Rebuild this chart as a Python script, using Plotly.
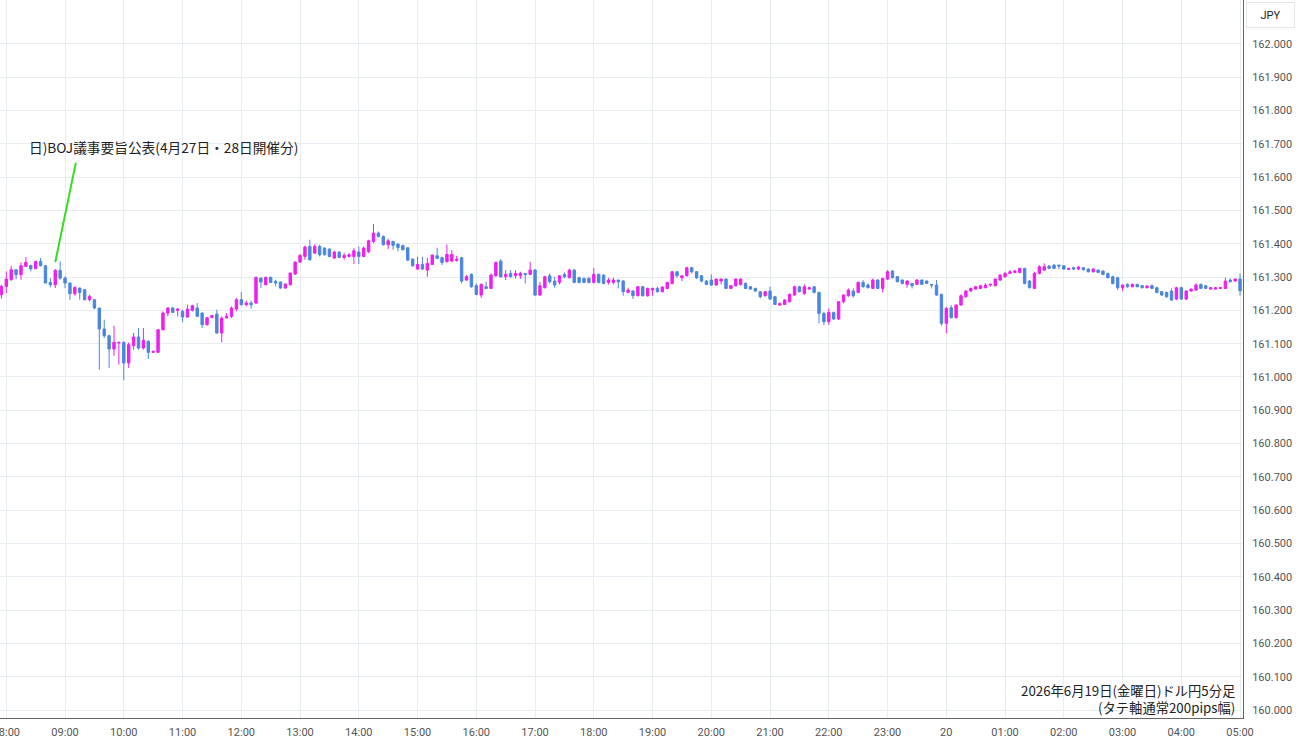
import pandas as pd
import plotly.graph_objects as go

# 5-minute USD/JPY candles, 2026-06-19 07:55 -> 2026-06-20 05:00 (one row per hour block)
start_time = "2026-06-19 07:55"

open_ = [
    161.247,
    161.272, 161.292, 161.322, 161.307, 161.332, 161.335, 161.325, 161.347, 161.334, 161.284, 161.277, 161.320,  # 08
    161.297, 161.282, 161.250, 161.267, 161.262, 161.232, 161.232, 161.207, 161.144, 161.124, 161.084, 161.102,  # 09
    161.104, 161.042, 161.094, 161.120, 161.087, 161.107, 161.074, 161.074, 161.142, 161.192, 161.207, 161.200,  # 10
    161.197, 161.180, 161.200, 161.207, 161.192, 161.157, 161.179, 161.189, 161.132, 161.177, 161.182, 161.204,  # 11
    161.232, 161.217, 161.222, 161.222, 161.297, 161.277, 161.299, 161.287, 161.285, 161.267, 161.277, 161.309,  # 12
    161.345, 161.362, 161.392, 161.372, 161.392, 161.387, 161.384, 161.357, 161.375, 161.359, 161.362, 161.362,  # 13
    161.375, 161.362, 161.377, 161.407, 161.432, 161.422, 161.397, 161.407, 161.399, 161.395, 161.388, 161.354,  # 14
    161.324, 161.338, 161.321, 161.338, 161.364, 161.358, 161.346, 161.348, 161.350, 161.358, 161.291, 161.308,  # 15
    161.274, 161.246, 161.271, 161.266, 161.304, 161.348, 161.301, 161.311, 161.304, 161.304, 161.311, 161.308,  # 16
    161.321, 161.246, 161.268, 161.304, 161.288, 161.284, 161.308, 161.298, 161.321, 161.298, 161.296, 161.296,  # 17
    161.284, 161.308, 161.306, 161.284, 161.284, 161.291, 161.288, 161.254, 161.258, 161.244, 161.271, 161.244,  # 18
    161.261, 161.266, 161.256, 161.266, 161.281, 161.316, 161.298, 161.304, 161.328, 161.316, 161.304, 161.288,  # 19
    161.291, 161.276, 161.288, 161.294, 161.266, 161.274, 161.278, 161.281, 161.271, 161.266, 161.256, 161.244,  # 20
    161.258, 161.241, 161.216, 161.218, 161.226, 161.246, 161.271, 161.251, 161.264, 161.271, 161.254, 161.191,  # 21
    161.166, 161.194, 161.174, 161.226, 161.244, 161.258, 161.254, 161.284, 161.276, 161.266, 161.291, 161.266,  # 22
    161.294, 161.318, 161.301, 161.291, 161.278, 161.281, 161.278, 161.291, 161.288, 161.278, 161.276, 161.248,  # 23
    161.161, 161.208, 161.178, 161.216, 161.241, 161.258, 161.264, 161.266, 161.268, 161.276, 161.274, 161.291,  # 00
    161.301, 161.311, 161.314, 161.314, 161.326, 161.288, 161.266, 161.311, 161.321, 161.333, 161.336, 161.336,  # 01
    161.334, 161.323, 161.328, 161.324, 161.328, 161.324, 161.316, 161.321, 161.318, 161.311, 161.301, 161.298,  # 02
    161.268, 161.278, 161.271, 161.278, 161.274, 161.268, 161.274, 161.268, 161.256, 161.254, 161.258, 161.234,  # 03
    161.268, 161.234, 161.258, 161.261, 161.278, 161.274, 161.264, 161.264, 161.266, 161.266, 161.291, 161.288,  # 04
    161.294,
]

high = [
    161.277,
    161.317, 161.334, 161.324, 161.344, 161.360, 161.337, 161.349, 161.357, 161.336, 161.297, 161.324, 161.347,
    161.302, 161.284, 161.272, 161.269, 161.264, 161.247, 161.234, 161.207, 161.172, 161.127, 161.154, 161.104,
    161.107, 161.104, 161.132, 161.147, 161.147, 161.110, 161.077, 161.144, 161.197, 161.210, 161.210, 161.207,
    161.202, 161.217, 161.217, 161.222, 161.194, 161.180, 161.186, 161.202, 161.182, 161.192, 161.212, 161.237,
    161.255, 161.229, 161.229, 161.302, 161.299, 161.302, 161.302, 161.292, 161.287, 161.281, 161.314, 161.347,
    161.369, 161.395, 161.412, 161.399, 161.397, 161.389, 161.386, 161.379, 161.377, 161.372, 161.372, 161.387,
    161.392, 161.392, 161.412, 161.459, 161.437, 161.425, 161.415, 161.409, 161.402, 161.397, 161.390, 161.356,
    161.361, 161.361, 161.358, 161.368, 161.388, 161.361, 161.398, 161.381, 161.364, 161.361, 161.306, 161.311,
    161.281, 161.281, 161.286, 161.311, 161.346, 161.354, 161.321, 161.321, 161.321, 161.316, 161.312, 161.346,
    161.324, 161.286, 161.304, 161.311, 161.301, 161.306, 161.314, 161.324, 161.324, 161.301, 161.298, 161.301,
    161.328, 161.311, 161.308, 161.298, 161.298, 161.292, 161.291, 161.268, 161.261, 161.273, 161.273, 161.268,
    161.268, 161.271, 161.272, 161.286, 161.318, 161.318, 161.306, 161.331, 161.331, 161.318, 161.306, 161.291,
    161.308, 161.296, 161.296, 161.296, 161.276, 161.296, 161.296, 161.284, 161.273, 161.268, 161.258, 161.258,
    161.271, 161.244, 161.223, 161.234, 161.251, 161.274, 161.274, 161.278, 161.271, 161.272, 161.256, 161.196,
    161.206, 161.196, 161.228, 161.248, 161.266, 161.266, 161.286, 161.291, 161.281, 161.296, 161.294, 161.298,
    161.321, 161.321, 161.303, 161.293, 161.291, 161.282, 161.294, 161.293, 161.290, 161.279, 161.291, 161.250,
    161.211, 161.216, 161.218, 161.248, 161.261, 161.268, 161.274, 161.276, 161.281, 161.281, 161.296, 161.308,
    161.316, 161.321, 161.321, 161.328, 161.328, 161.291, 161.316, 161.336, 161.341, 161.336, 161.338, 161.337,
    161.336, 161.328, 161.330, 161.333, 161.330, 161.326, 161.326, 161.323, 161.320, 161.313, 161.304, 161.301,
    161.278, 161.281, 161.281, 161.280, 161.276, 161.276, 161.278, 161.271, 161.258, 161.256, 161.266, 161.271,
    161.271, 161.261, 161.266, 161.281, 161.281, 161.276, 161.270, 161.270, 161.270, 161.298, 161.296, 161.296,
    161.311,
]

low = [
    161.235,
    161.252, 161.289, 161.294, 161.292, 161.330, 161.317, 161.324, 161.332, 161.282, 161.269, 161.267, 161.292,
    161.267, 161.232, 161.244, 161.232, 161.230, 161.227, 161.204, 161.022, 161.117, 161.027, 161.064, 161.037,
    160.990, 161.027, 161.082, 161.082, 161.082, 161.054, 161.072, 161.072, 161.140, 161.182, 161.192, 161.182,
    161.164, 161.177, 161.197, 161.180, 161.147, 161.154, 161.177, 161.130, 161.104, 161.176, 161.177, 161.197,
    161.215, 161.212, 161.205, 161.219, 161.267, 161.275, 161.282, 161.272, 161.265, 161.265, 161.275, 161.307,
    161.342, 161.352, 161.349, 161.370, 161.362, 161.365, 161.360, 161.355, 161.357, 161.352, 161.359, 161.339,
    161.339, 161.360, 161.372, 161.402, 161.419, 161.395, 161.384, 161.382, 161.377, 161.380, 161.348, 161.331,
    161.322, 161.322, 161.301, 161.336, 161.354, 161.336, 161.344, 161.346, 161.346, 161.281, 161.289, 161.268,
    161.246, 161.238, 161.264, 161.264, 161.301, 161.298, 161.291, 161.298, 161.296, 161.294, 161.281, 161.306,
    161.244, 161.244, 161.266, 161.281, 161.268, 161.278, 161.296, 161.296, 161.281, 161.281, 161.282, 161.281,
    161.281, 161.281, 161.278, 161.278, 161.278, 161.266, 161.244, 161.251, 161.234, 161.242, 161.242, 161.241,
    161.244, 161.254, 161.254, 161.264, 161.278, 161.298, 161.288, 161.301, 161.311, 161.294, 161.284, 161.276,
    161.274, 161.274, 161.278, 161.264, 161.264, 161.271, 161.274, 161.264, 161.262, 161.256, 161.236, 161.241,
    161.231, 161.216, 161.214, 161.216, 161.224, 161.244, 161.254, 161.246, 161.262, 161.251, 161.161, 161.156,
    161.156, 161.171, 161.171, 161.221, 161.241, 161.238, 161.251, 161.268, 161.266, 161.264, 161.264, 161.254,
    161.291, 161.296, 161.284, 161.278, 161.268, 161.266, 161.276, 161.276, 161.279, 161.266, 161.244, 161.154,
    161.131, 161.176, 161.176, 161.214, 161.238, 161.256, 161.262, 161.264, 161.266, 161.271, 161.272, 161.288,
    161.298, 161.309, 161.312, 161.311, 161.278, 161.266, 161.264, 161.308, 161.318, 161.324, 161.324, 161.324,
    161.322, 161.321, 161.322, 161.321, 161.320, 161.314, 161.314, 161.312, 161.306, 161.296, 161.278, 161.261,
    161.258, 161.268, 161.269, 161.269, 161.266, 161.266, 161.264, 161.251, 161.244, 161.238, 161.228, 161.231,
    161.231, 161.231, 161.256, 161.258, 161.264, 161.264, 161.262, 161.262, 161.264, 161.264, 161.284, 161.286,
    161.244,
]

close = [
    161.272,
    161.294, 161.322, 161.307, 161.334, 161.344, 161.325, 161.347, 161.334, 161.282, 161.277, 161.320, 161.297,
    161.282, 161.250, 161.269, 161.254, 161.232, 161.242, 161.207, 161.144, 161.124, 161.084, 161.104, 161.104,
    161.042, 161.097, 161.120, 161.087, 161.110, 161.074, 161.077, 161.142, 161.192, 161.207, 161.194, 161.204,
    161.180, 161.204, 161.214, 161.182, 161.157, 161.178, 161.184, 161.132, 161.177, 161.182, 161.207, 161.232,
    161.217, 161.222, 161.217, 161.299, 161.285, 161.299, 161.284, 161.282, 161.267, 161.279, 161.312, 161.345,
    161.365, 161.390, 161.352, 161.392, 161.367, 161.367, 161.362, 161.375, 161.359, 161.365, 161.367, 161.379,
    161.362, 161.387, 161.409, 161.432, 161.422, 161.397, 161.409, 161.395, 161.389, 161.382, 161.351, 161.334,
    161.338, 161.324, 161.341, 161.366, 161.356, 161.344, 161.368, 161.368, 161.354, 161.288, 161.301, 161.271,
    161.248, 161.278, 161.266, 161.306, 161.344, 161.301, 161.308, 161.301, 161.311, 161.311, 161.308, 161.321,
    161.246, 161.274, 161.301, 161.286, 161.276, 161.304, 161.301, 161.321, 161.284, 161.284, 161.284, 161.284,
    161.308, 161.284, 161.281, 161.291, 161.291, 161.286, 161.256, 161.261, 161.244, 161.271, 161.244, 161.266,
    161.266, 161.256, 161.270, 161.284, 161.316, 161.304, 161.304, 161.328, 161.316, 161.298, 161.288, 161.278,
    161.276, 161.294, 161.294, 161.266, 161.274, 161.294, 161.294, 161.266, 161.264, 161.258, 161.241, 161.256,
    161.234, 161.218, 161.221, 161.231, 161.248, 161.271, 161.256, 161.271, 161.268, 161.254, 161.191, 161.166,
    161.194, 161.174, 161.226, 161.246, 161.261, 161.244, 161.284, 161.271, 161.268, 161.291, 161.266, 161.296,
    161.316, 161.298, 161.286, 161.281, 161.288, 161.274, 161.291, 161.278, 161.281, 161.276, 161.246, 161.161,
    161.206, 161.178, 161.216, 161.244, 161.258, 161.266, 161.271, 161.274, 161.276, 161.278, 161.294, 161.306,
    161.311, 161.316, 161.318, 161.326, 161.281, 161.268, 161.311, 161.331, 161.331, 161.326, 161.326, 161.333,
    161.324, 161.326, 161.324, 161.330, 161.322, 161.316, 161.324, 161.314, 161.308, 161.298, 161.281, 161.268,
    161.276, 161.271, 161.278, 161.271, 161.268, 161.273, 161.266, 161.254, 161.246, 161.241, 161.231, 161.268,
    161.234, 161.258, 161.264, 161.276, 161.266, 161.266, 161.268, 161.268, 161.268, 161.288, 161.286, 161.294,
    161.259,
]

tick_times = pd.date_range("2026-06-19 08:00", "2026-06-20 05:00", freq="1h")
tick_labels = [("20" if t.hour == 0 else t.strftime("%H:%M")) for t in tick_times]
price_ticks = [round(160.0 + 0.1 * k, 1) for k in range(21)]

event_text = "日)BOJ議事要旨公表(4月27日・28日開催分)"
event_time = "2026-06-19 08:50"
footer_line1 = "2026年6月19日(金曜日)ドル円5分足"
footer_line2 = "(タテ軸通常200pips幅)"

times = pd.date_range(start_time, periods=len(open_), freq="5min")

UP = "#f01ef0"
DOWN = "#4a86e0"
GRID = "#e7edf3"
FONT = "Noto Sans CJK JP"

fig = go.Figure()
fig.add_trace(go.Candlestick(
    x=times, open=open_, high=high, low=low, close=close,
    increasing=dict(line=dict(color=UP, width=1), fillcolor=UP),
    decreasing=dict(line=dict(color=DOWN, width=1), fillcolor=DOWN),
    whiskerwidth=0, showlegend=False, hoverinfo="x+y",
))

# event marker line
fig.add_shape(type="line", xref="x", yref="y",
              x0=pd.Timestamp(event_time), y0=161.345,
              x1=pd.Timestamp("2026-06-19 09:11"), y1=161.643,
              line=dict(color="#33dd22", width=2))
fig.add_annotation(x=pd.Timestamp("2026-06-19 08:21"), y=161.690, xref="x", yref="y",
                   text=event_text, showarrow=False, xanchor="left", yanchor="middle",
                   font=dict(family=FONT, size=13.7, color="#222"))

fig.add_annotation(x=0.995, y=0.0265, xref="paper", yref="paper",
                   text=footer_line1 + "<br>" + footer_line2, showarrow=False,
                   xanchor="right", yanchor="middle", align="right",
                   font=dict(family=FONT, size=13.3, color="#222"))

fig.add_annotation(x=1.0, y=1.0, xref="paper", yref="paper", xshift=27, yshift=-15,
                   text="JPY", showarrow=False, xanchor="center", yanchor="middle",
                   width=45, height=22,
                   font=dict(family="Roboto", size=11, color="#222"),
                   bordercolor="#e3e6ea", borderwidth=1, borderpad=1, bgcolor="white")

fig.update_layout(
    width=1300, height=745,
    margin=dict(l=0, r=57, t=0, b=27, autoexpand=False),
    paper_bgcolor="white", plot_bgcolor="white",
    font=dict(family="Roboto", size=11, color="#444"),
    xaxis=dict(
        type="date", automargin=False,
        range=[pd.Timestamp("2026-06-19 07:53:34"), pd.Timestamp("2026-06-20 05:03:00")],
        rangeslider=dict(visible=False),
        tickvals=tick_times, ticktext=tick_labels,
        ticklabeloverflow="allow",
        showgrid=True, gridcolor=GRID, gridwidth=1,
        showline=True, linecolor="#666", linewidth=1,
        ticks="outside", ticklen=4, tickcolor="white", zeroline=False,
        tickfont=dict(family="Roboto", size=11, color="#555"),
    ),
    yaxis=dict(
        side="right", automargin=False,
        range=[159.976, 162.132],
        tickvals=price_ticks, tickformat=".3f",
        showgrid=True, gridcolor=GRID, gridwidth=1,
        showline=True, linecolor="#666", linewidth=1,
        ticks="outside", ticklen=6, tickcolor="white",
        zeroline=False,
        tickfont=dict(family="Roboto", size=11, color="#555"),
    ),
)

fig.write_html("out.html")
